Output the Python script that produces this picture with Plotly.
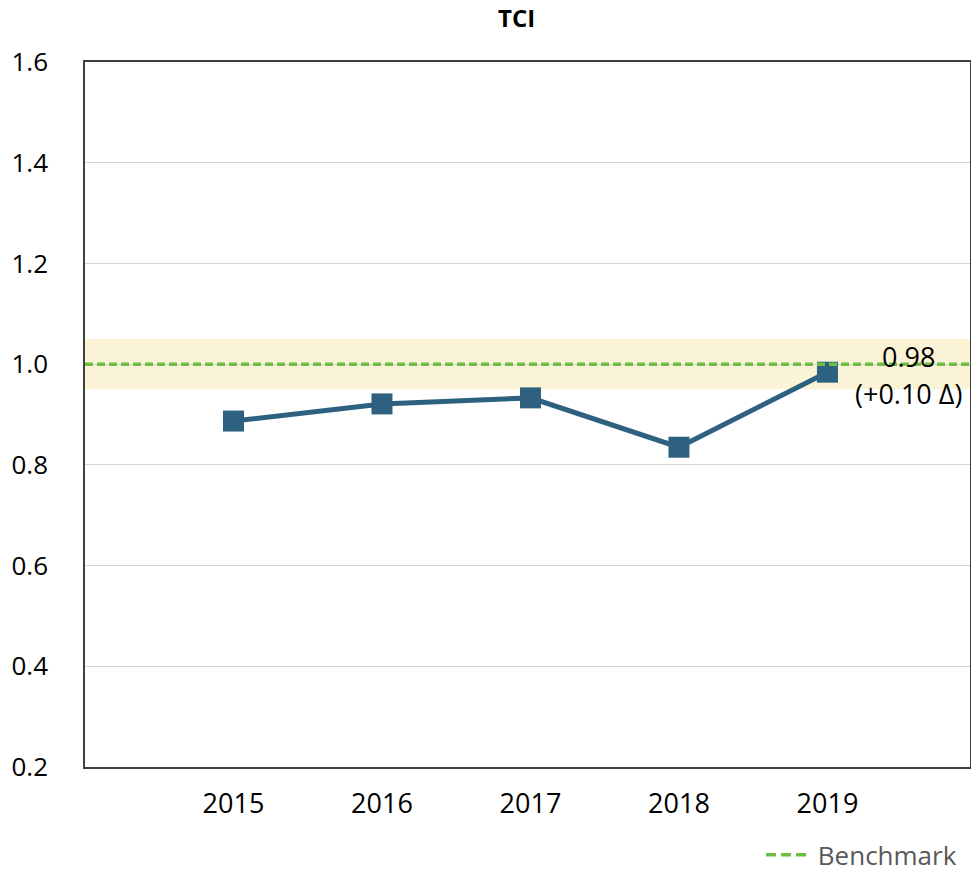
import plotly.graph_objects as go

years = ["2015", "2016", "2017", "2018", "2019"]
tci = [0.887, 0.921, 0.933, 0.835, 0.984]
benchmark = 1.0
band_low, band_high = 0.95, 1.05
last_label = "0.98"
delta_label = "(+0.10 Δ)"
y_ticks = [0.2, 0.4, 0.6, 0.8, 1.0, 1.2, 1.4, 1.6]

FONT = "Open Sans"
LINE_COLOR = "#2E6180"
GREEN = "#6CBF43"


def main():
    fig = go.Figure()

    fig.add_shape(
        type="rect", xref="paper", yref="y", x0=0, x1=1,
        y0=band_low, y1=band_high, fillcolor="#FBF3D6",
        line_width=0, layer="below",
    )
    fig.add_shape(
        type="line", xref="paper", yref="y", x0=0, x1=1,
        y0=benchmark, y1=benchmark,
        line=dict(color=GREEN, width=3.5, dash="8px,4px"), layer="above",
    )

    fig.add_trace(go.Scatter(
        x=years, y=tci, mode="lines+markers",
        line=dict(color=LINE_COLOR, width=5),
        marker=dict(symbol="square", size=21, color=LINE_COLOR),
        showlegend=False,
    ))
    # legend entry for the benchmark line
    fig.add_trace(go.Scatter(
        x=[None], y=[None], mode="lines", name=" Benchmark",
        line=dict(color=GREEN, width=3.5, dash="10px,5px"),
    ))

    last = len(years) - 1
    fig.add_annotation(
        x=last, y=tci[-1], text=last_label, showarrow=False,
        xshift=81, yshift=16, font=dict(family=FONT, size=27, color="black"),
    )
    fig.add_annotation(
        x=last, y=tci[-1], text=delta_label, showarrow=False,
        xshift=81, yshift=-21, font=dict(family=FONT, size=27, color="black"),
    )

    fig.update_layout(
        width=971, height=874,
        margin=dict(l=85, r=1, t=62, b=107),
        plot_bgcolor="white", paper_bgcolor="white",
        title=dict(text="<b>TCI</b>", x=0.532, xanchor="center", y=0.979,
                   yanchor="middle", font=dict(family=FONT, size=24, color="black")),
        font=dict(family=FONT, color="black"),
        legend=dict(orientation="h", xref="paper", x=0.991, xanchor="right",
                    yref="container", y=0.022, yanchor="middle",
                    font=dict(size=26, color="#595959"), itemwidth=40),
        xaxis=dict(
            type="category", range=[-1, 4.96], showgrid=False, automargin=False,
            showline=True, mirror=True, linecolor="#404040", linewidth=1.5,
            tickfont=dict(size=27), ticks="", ticklabelstandoff=12,
        ),
        yaxis=dict(
            range=[0.2, 1.6], tickvals=y_ticks, tickformat=".1f", automargin=False,
            showgrid=True, gridcolor="#D4D4D4", gridwidth=1,
            showline=True, mirror=True, linecolor="#404040", linewidth=1.5,
            tickfont=dict(size=26), ticks="", ticklabelstandoff=30,
            zeroline=False,
        ),
    )

    # drop the page's default body margin so the figure sits at the window corner
    fig.write_html(
        "out.html",
        config={"displayModeBar": False},
        post_script="document.body.style.margin='0';"
                    "document.body.style.overflow='hidden';",
    )


if __name__ == "__main__":
    main()
